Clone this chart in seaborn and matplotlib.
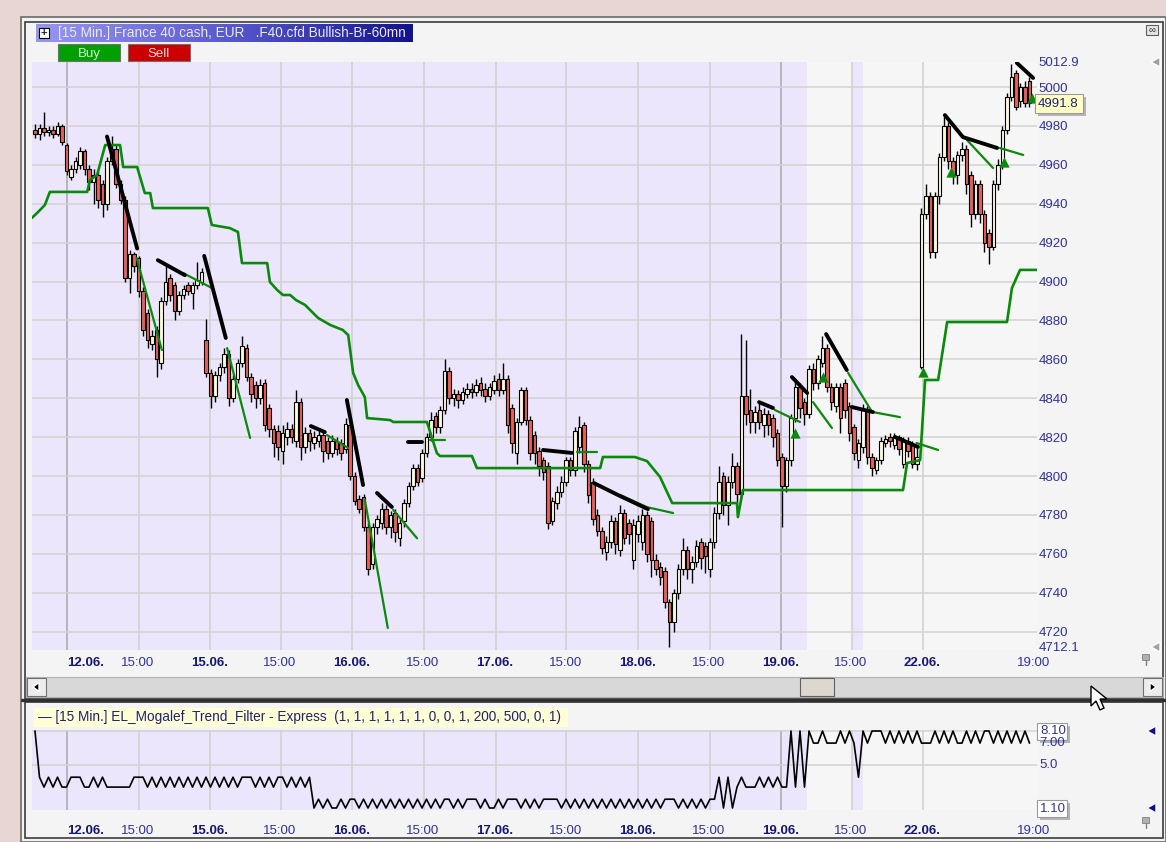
import numpy as np
import seaborn as sns
import matplotlib.pyplot as plt
from matplotlib.patches import Rectangle, Polygon
from matplotlib.colors import LinearSegmentedColormap

sns.set_theme(style="white")
plt.rcParams['font.family'] = ['Liberation Sans', 'DejaVu Sans']

# ---------------- data (15 min bars) ----------------
open_ = [4978, 4976, 4979, 4977, 4978, 4976, 4980, 4970, 4954, 4958,
         4960, 4967, 4958, 4951, 4955, 4950, 4940, 4962, 4968, 4950,
         4942, 4902, 4914, 4912, 4895, 4884, 4868, 4875, 4858, 4890,
         4902, 4898, 4885, 4893, 4898, 4894, 4898, 4900, 4870, 4853,
         4841, 4852, 4856, 4863, 4840, 4850, 4858, 4866, 4851, 4847,
         4840, 4848, 4835, 4824, 4823, 4813, 4820, 4824, 4818, 4838,
         4815, 4822, 4817, 4818, 4821, 4818, 4812, 4818, 4817, 4814,
         4826, 4800, 4788, 4789, 4774, 4755, 4774, 4776, 4783, 4774,
         4781, 4768, 4777, 4786, 4795, 4804, 4799, 4812, 4820, 4831,
         4825, 4834, 4854, 4840, 4842, 4839, 4842, 4845, 4843, 4848,
         4845, 4841, 4844, 4850, 4844, 4850, 4835, 4812, 4828, 4844,
         4829, 4821, 4813, 4808, 4805, 4777, 4786, 4792, 4797, 4808,
         4803, 4815, 4826, 4806, 4797, 4780, 4772, 4761, 4766, 4777,
         4762, 4781, 4776, 4757, 4770, 4766, 4780, 4777, 4757, 4753,
         4751, 4735, 4725, 4740, 4752, 4762, 4752, 4756, 4766, 4764,
         4752, 4766, 4781, 4800, 4785, 4797, 4805, 4791, 4841, 4834,
         4828, 4834, 4826, 4832, 4830, 4822, 4810, 4795, 4808, 4830,
         4846, 4838, 4832, 4855, 4848, 4858, 4866, 4846, 4836, 4846,
         4848, 4836, 4825, 4808, 4815, 4834, 4810, 4803, 4808, 4817,
         4820, 4816, 4820, 4806, 4818, 4816, 4806, 4856, 4935, 4944,
         4915, 4944, 4964, 4980, 4962, 4955, 4965, 4968, 4955, 4935,
         4950, 4935, 4925, 4918, 4950, 4960, 4978, 4995, 5007, 4993,
         5000, 5003]
close = [4976, 4979, 4977, 4978, 4976, 4980, 4972, 4957, 4958, 4962,
         4967, 4958, 4951, 4955, 4942, 4940, 4962, 4968, 4950, 4942,
         4902, 4914, 4908, 4895, 4875, 4870, 4872, 4860, 4890, 4900,
         4893, 4885, 4893, 4896, 4895, 4898, 4901, 4905, 4853, 4841,
         4852, 4856, 4863, 4840, 4850, 4858, 4867, 4851, 4842, 4840,
         4847, 4826, 4824, 4817, 4815, 4822, 4824, 4820, 4838, 4815,
         4822, 4818, 4820, 4821, 4813, 4812, 4818, 4814, 4812, 4827,
         4800, 4787, 4783, 4774, 4752, 4774, 4778, 4783, 4774, 4780,
         4771, 4776, 4786, 4795, 4804, 4797, 4812, 4820, 4829, 4825,
         4834, 4854, 4840, 4842, 4839, 4843, 4845, 4843, 4847, 4844,
         4841, 4846, 4849, 4844, 4850, 4826, 4817, 4828, 4844, 4829,
         4812, 4812, 4805, 4802, 4776, 4787, 4792, 4797, 4808, 4803,
         4823, 4825, 4806, 4790, 4778, 4772, 4763, 4766, 4777, 4765,
         4781, 4768, 4770, 4775, 4777, 4780, 4760, 4757, 4752, 4748,
         4735, 4725, 4740, 4752, 4762, 4752, 4756, 4764, 4758, 4759,
         4766, 4781, 4797, 4785, 4797, 4805, 4791, 4841, 4832, 4828,
         4833, 4828, 4832, 4826, 4820, 4808, 4795, 4808, 4830, 4846,
         4835, 4832, 4855, 4848, 4860, 4866, 4846, 4838, 4846, 4830,
         4834, 4822, 4812, 4817, 4834, 4810, 4804, 4808, 4818, 4819,
         4818, 4820, 4814, 4818, 4813, 4806, 4810, 4935, 4944, 4915,
         4944, 4964, 4980, 4962, 4955, 4965, 4968, 4950, 4935, 4950,
         4935, 4920, 4918, 4950, 4960, 4978, 4995, 5005, 4990, 5000,
         4992, 4991.8]
high = [4981, 4981, 4987, 4980, 4980, 4982, 4981, 4971, 4960, 4964,
        4969, 4968, 4960, 4958, 4957, 4952, 4964, 4975, 4970, 4952,
        4944, 4916, 4915, 4913, 4897, 4886, 4875, 4877, 4892, 4908,
        4904, 4900, 4895, 4898, 4900, 4900, 4910, 4907, 4881, 4855,
        4854, 4858, 4866, 4865, 4852, 4860, 4872, 4868, 4853, 4849,
        4850, 4850, 4837, 4826, 4826, 4826, 4828, 4827, 4844, 4840,
        4825, 4824, 4823, 4824, 4823, 4820, 4821, 4820, 4819, 4830,
        4828, 4802, 4790, 4791, 4776, 4776, 4780, 4786, 4785, 4782,
        4783, 4778, 4788, 4797, 4806, 4806, 4814, 4822, 4833, 4833,
        4836, 4860, 4856, 4845, 4844, 4846, 4848, 4848, 4850, 4851,
        4848, 4848, 4852, 4853, 4858, 4852, 4837, 4830, 4846, 4846,
        4831, 4823, 4815, 4810, 4807, 4789, 4795, 4800, 4810, 4810,
        4825, 4831, 4828, 4808, 4799, 4783, 4774, 4769, 4780, 4779,
        4785, 4783, 4778, 4778, 4780, 4783, 4782, 4779, 4760, 4756,
        4753, 4737, 4742, 4755, 4768, 4764, 4759, 4767, 4768, 4766,
        4768, 4784, 4805, 4802, 4800, 4812, 4807, 4873, 4870, 4845,
        4836, 4838, 4835, 4834, 4832, 4824, 4812, 4810, 4832, 4850,
        4848, 4840, 4857, 4858, 4862, 4872, 4868, 4848, 4848, 4848,
        4850, 4838, 4827, 4819, 4837, 4836, 4812, 4810, 4820, 4821,
        4822, 4822, 4821, 4820, 4820, 4818, 4815, 4938, 4950, 4946,
        4946, 4966, 4986, 4982, 4964, 4967, 4972, 4970, 4957, 4952,
        4952, 4937, 4927, 4952, 4963, 4980, 4997, 5012, 5009, 5002,
        5003, 5005]
low = [4974, 4973, 4975, 4975, 4974, 4975, 4970, 4955, 4952, 4956,
       4958, 4955, 4947, 4940, 4938, 4933, 4937, 4960, 4948, 4940,
       4900, 4894, 4905, 4892, 4872, 4866, 4865, 4851, 4855, 4888,
       4890, 4880, 4883, 4891, 4893, 4886, 4896, 4898, 4851, 4835,
       4838, 4849, 4853, 4836, 4838, 4848, 4856, 4849, 4838, 4835,
       4837, 4823, 4820, 4810, 4808, 4806, 4816, 4817, 4815, 4808,
       4812, 4813, 4814, 4815, 4807, 4809, 4810, 4811, 4808, 4812,
       4798, 4785, 4781, 4772, 4749, 4752, 4770, 4773, 4770, 4768,
       4766, 4764, 4774, 4784, 4793, 4795, 4797, 4810, 4818, 4822,
       4822, 4832, 4837, 4836, 4835, 4837, 4840, 4840, 4841, 4841,
       4838, 4839, 4842, 4841, 4842, 4822, 4812, 4806, 4826, 4826,
       4808, 4806, 4800, 4798, 4773, 4775, 4783, 4789, 4795, 4800,
       4800, 4812, 4802, 4786, 4775, 4769, 4760, 4757, 4763, 4760,
       4759, 4765, 4765, 4752, 4766, 4762, 4756, 4748, 4749, 4744,
       4732, 4712, 4720, 4737, 4749, 4747, 4745, 4753, 4752, 4750,
       4748, 4763, 4778, 4780, 4775, 4794, 4786, 4788, 4826, 4822,
       4822, 4824, 4820, 4821, 4815, 4805, 4774, 4792, 4805, 4828,
       4830, 4826, 4830, 4844, 4845, 4856, 4843, 4834, 4833, 4822,
       4830, 4818, 4808, 4804, 4812, 4806, 4800, 4801, 4806, 4815,
       4815, 4814, 4811, 4804, 4810, 4804, 4803, 4855, 4932, 4912,
       4912, 4940, 4962, 4958, 4950, 4950, 4962, 4945, 4928, 4932,
       4930, 4915, 4909, 4916, 4947, 4958, 4976, 4993, 4988, 4990,
       4990, 4990]

# EL_Mogalef_Trend_Filter - Express, one value per bar
trend_filter = [8.1, 3.9, 3.0, 3.9, 3.0, 3.9, 3.0, 3.0, 3.9, 3.9,
                3.9, 3.0, 3.0, 3.9, 3.0, 3.9, 3.0, 3.0, 3.0, 3.0,
                3.0, 3.0, 3.9, 3.9, 3.9, 3.0, 3.9, 3.0, 3.9, 3.0,
                3.9, 3.0, 3.9, 3.0, 3.9, 3.0, 3.9, 3.0, 3.9, 3.0,
                3.9, 3.0, 3.9, 3.0, 3.9, 3.0, 3.9, 3.9, 3.9, 3.0,
                3.9, 3.0, 3.9, 3.0, 3.9, 3.9, 3.0, 3.9, 3.0, 3.9,
                3.0, 3.9, 1.1, 1.9, 1.1, 1.9, 1.1, 1.1, 1.9, 1.1,
                1.9, 1.9, 1.1, 1.9, 1.1, 1.9, 1.1, 1.9, 1.1, 1.9,
                1.1, 1.9, 1.1, 1.9, 1.1, 1.9, 1.1, 1.9, 1.1, 1.9,
                1.1, 1.9, 1.9, 1.1, 1.9, 1.1, 1.9, 1.9, 1.9, 1.1,
                1.9, 1.1, 1.1, 1.9, 1.1, 1.9, 1.9, 1.9, 1.1, 1.9,
                1.1, 1.9, 1.1, 1.9, 1.9, 1.9, 1.9, 1.1, 1.9, 1.1,
                1.9, 1.1, 1.9, 1.1, 1.9, 1.1, 1.9, 1.1, 1.9, 1.1,
                1.9, 1.1, 1.9, 1.1, 1.9, 1.1, 1.9, 1.1, 1.9, 1.1,
                1.9, 1.9, 1.9, 1.1, 1.9, 1.1, 1.9, 1.1, 1.9, 1.1,
                1.9, 1.9, 3.9, 1.1, 3.9, 1.1, 3.0, 3.9, 3.0, 3.0,
                3.0, 3.9, 3.0, 3.9, 3.0, 3.9, 3.0, 3.0, 8.1, 3.0,
                8.1, 3.0, 8.1, 7.0, 7.0, 8.1, 7.0, 7.0, 7.0, 8.1,
                7.0, 8.1, 7.0, 3.9, 8.1, 7.0, 8.1, 8.1, 8.1, 7.0,
                8.1, 7.0, 8.1, 7.0, 8.1, 7.0, 8.1, 7.0, 7.0, 7.0,
                8.1, 7.0, 8.1, 7.0, 8.1, 7.0, 7.0, 8.1, 7.0, 8.1,
                7.0, 8.1, 8.1, 7.0, 8.1, 7.0, 8.1, 7.0, 8.1, 7.0,
                8.1, 7.0]

# green trailing stop (vertices: bar index, price)
stop_x = [-0.7, 0.7, 2.2, 3.3, 11.6, 12.2, 13.8, 15.6, 18.9, 19.6, 22.7, 24.4,
          25.6, 26.2, 38.4, 39.3, 43.3, 45.1, 46.0, 51.6, 52.2, 53.8, 55.1,
          56.7, 58.0, 60.0, 62.9, 65.6, 68.4, 69.6, 70.7, 71.8, 73.3, 73.8,
          78.9, 79.6, 87.1, 89.3, 90.0, 97.1, 98.2, 125.6, 126.2, 133.3,
          136.0, 138.9, 141.6, 156.0, 156.2, 157.3, 192.9, 193.8, 196.7,
          197.8, 200.7, 202.7, 216.0, 217.1, 218.9, 222.7]
stop_y = [4932.7, 4935.8, 4939.4, 4946.1, 4946.1, 4952.2, 4954.8, 4970.2,
          4970.2, 4958.9, 4958.9, 4945.5, 4945.5, 4937.8, 4937.8, 4929.1,
          4927.5, 4925.5, 4909.5, 4909.5, 4899.8, 4895.7, 4893.1, 4893.1,
          4890.5, 4888.0, 4881.3, 4877.7, 4875.1, 4872.5, 4853.0, 4846.8,
          4840.6, 4829.8, 4828.8, 4827.8, 4827.8, 4811.8, 4810.3, 4810.3,
          4804.1, 4804.1, 4809.8, 4809.8, 4807.7, 4799.5, 4786.1, 4786.1,
          4778.9, 4792.8, 4792.8, 4806.7, 4808.2, 4849.4, 4849.4, 4879.2,
          4879.2, 4896.7, 4906.0, 4906.0]

# black bearish trend lines and green projection lines
black_lines = [
    [(16.0, 4974.6), (22.7, 4917.0)],
    [(27.3, 4911.0), (33.3, 4903.3)],
    [(37.6, 4913.2), (42.4, 4871.0)],
    [(61.3, 4825.7), (64.4, 4822.6)],
    [(69.3, 4839.1), (72.9, 4795.4)],
    [(76.0, 4791.3), (79.3, 4784.1)],
    [(82.9, 4817.5), (86.0, 4817.5)],
    [(112.9, 4813.4), (119.3, 4811.9)],
    [(124.2, 4796.4), (129.6, 4790.2), (136.2, 4783.0)],
    [(160.9, 4838.0), (164.0, 4835.0)],
    [(168.2, 4850.9), (171.6, 4842.7)],
    [(175.8, 4873.0), (180.4, 4854.5)],
    [(181.5, 4835.5), (186.2, 4832.9)],
    [(191.1, 4820.1), (196.2, 4815.0)],
    [(202.2, 4985.6), (206.2, 4974.3), (213.8, 4968.7)],
    [(218.2, 5012.4), (221.8, 5004.7)],
]
green_lines = [
    [(22.6, 4912.1), (28.2, 4864.8)],
    [(32.9, 4904.4), (39.3, 4896.7)],
    [(42.7, 4865.8), (47.8, 4819.6)],
    [(64.9, 4821.1), (69.6, 4814.4)],
    [(73.3, 4787.7), (78.4, 4721.9)],
    [(79.6, 4782.6), (84.9, 4768.0)],
    [(87.8, 4818.5), (91.1, 4818.5)],
    [(120.4, 4812.4), (124.9, 4812.4)],
    [(130.0, 4790.3), (136.0, 4784.0), (141.8, 4781.0)],
    [(164.4, 4834.0), (170.0, 4827.8)],
    [(172.9, 4838.0), (177.1, 4824.7)],
    [(180.7, 4853.0), (186.0, 4833.0)],
    [(186.2, 4832.9), (192.2, 4830.3)],
    [(195.9, 4817.0), (200.7, 4813.4)],
    [(207.1, 4972.8), (212.9, 4958.4)],
    [(214.4, 4968.7), (219.6, 4965.1)],
]
buy_x = [168.9, 175.1, 197.3, 203.5, 215.3, 221.6]
buy_y = [4822.1, 4850.9, 4853.5, 4956.3, 4961.3, 4994.4]

price_ticks = [5000, 4980, 4960, 4940, 4920, 4900, 4880, 4860, 4840, 4820,
               4800, 4780, 4760, 4740, 4720]
price_top, price_bottom = 5012.9, 4712.1
last_price = '4991.8'
filter_ticks = ['8.10', '7.00', '5.0', '1.10']

grid_x = [7.1, 23.0, 38.8, 54.7, 70.4, 86.4, 102.4, 118.1, 134.0, 150.0,
          165.7, 181.5, 197.3]
date_pos = [11.2, 38.9, 70.4, 102.2, 133.9, 165.6, 197.2]
date_lbl = ['12.06.', '15.06.', '16.06.', '17.06.', '18.06.', '19.06.', '22.06.']
time_pos = [22.7, 54.4, 86.1, 117.9, 149.6, 181.3, 222.0]
time_lbl = ['15:00', '15:00', '15:00', '15:00', '15:00', '15:00', '19:00']

title = '[15 Min.] France 40 cash, EUR   .F40.cfd Bullish-Br-60mn'
sub_title = '\u2014 [15 Min.] EL_Mogalef_Trend_Filter - Express  (1, 1, 1, 1, 1, 1, 0, 0, 1, 200, 500, 0, 1)'

# ---------------- layout ----------------
W, H = 1166, 842
LAV = '#ece6fc'
LIGHT = '#f6f6f6'
BLUE_TXT = '#3030a8'
NAVY_TXT = '#16167a'

fig = plt.figure(figsize=(W / 100, H / 100), dpi=100)
fig.patch.set_facecolor('#e8d6d4')

bg = fig.add_axes([0, 0, 1, 1], zorder=-5)
bg.set_xlim(0, W)
bg.set_ylim(H, 0)
bg.axis('off')
bg.add_patch(Rectangle((21, 17), W - 21, H - 17, fc='#f2f2f2', ec='#6a6a6a', lw=1.2))
bg.add_patch(Rectangle((25, 22), 1138, 677, fc='#f4f4f4', ec='#3c3c3c', lw=1.2))
bg.add_patch(Rectangle((25, 702), 1138, 136, fc='#f4f4f4', ec='#3c3c3c', lw=1.2))

idx = np.arange(len(close))
o = np.array(open_, float)
c = np.array(close, float)
up = c >= o
xlim = (-0.667, 222.667)


def shade(a):
    a.set_facecolor(LIGHT)
    a.axvspan(xlim[0], 171.6, color=LAV, lw=0, zorder=0)
    a.axvspan(181.6, 184.0, color=LAV, lw=0, zorder=0)
    for gx in grid_x:
        dark = gx in (7.1, 165.7)
        a.axvline(gx, color='#a8a8a8' if dark else '#cfcfcf', lw=1.1, zorder=1)
    for s in a.spines.values():
        s.set_visible(False)
    a.set_xlim(*xlim)
    a.set_xticks(date_pos + time_pos, date_lbl + time_lbl)
    for k, t in enumerate(a.get_xticklabels()):
        if k < len(date_pos):
            t.set_fontweight('bold')
            t.set_color(NAVY_TXT)
        else:
            t.set_color(BLUE_TXT)


# ---- main price panel ----
ax = fig.add_axes([32 / W, 1 - 650 / H, 1005 / W, 588 / H], zorder=1)
shade(ax)
ax.set_ylim(price_bottom - 3 / 1.9448, price_top)
for v in price_ticks:
    ax.axhline(v, color='#d2d2d2', lw=1.1, zorder=1)

ax.vlines(idx, low, high, color='black', lw=1.0, zorder=3)
body = np.maximum(np.abs(c - o), 0.7)
ax.bar(idx, body, bottom=np.minimum(o, c), width=0.88,
       color=np.where(up, '#fbf8dc', '#ec5e5a'), edgecolor='black',
       linewidth=0.8, zorder=4)

sns.lineplot(x=stop_x, y=stop_y, ax=ax, color='#0a8a0a', lw=1.9,
             sort=False, estimator=None, zorder=5)
for seg in green_lines:
    xs, ys = zip(*seg)
    ax.plot(xs, ys, color='#0a8a0a', lw=1.6, zorder=5)
for seg in black_lines:
    xs, ys = zip(*seg)
    ax.plot(xs, ys, color='black', lw=2.8, solid_capstyle='round', zorder=6)
ax.scatter(buy_x, buy_y, marker='^', s=55, color='#0a8a0a', zorder=7, lw=0)

ax.yaxis.tick_right()
ax.set_yticks([price_top] + price_ticks + [price_bottom],
              [f'{price_top:.1f}'] + [str(v) for v in price_ticks] + [f'{price_bottom:.1f}'])
ax.tick_params(axis='y', length=0, pad=1.2, labelsize=9.5, labelcolor=BLUE_TXT)
ax.tick_params(axis='x', length=0, pad=5.2, labelsize=9.5)
ax.set_xlabel('')
ax.set_ylabel('')

# ---- lower indicator panel ----
ax2 = fig.add_axes([32 / W, 1 - 810 / H, 1005 / W, 80 / H], zorder=1)
shade(ax2)
ax2.set_ylim(1.1 - 2 / 11, 8.1 + 1 / 11)
ax2.axhline(5.0, color='#d2d2d2', lw=1.1, zorder=1)
ax2.axhline(8.1, color='#d2d2d2', lw=1.1, zorder=1)
sns.lineplot(x=idx, y=trend_filter, ax=ax2, color='black', lw=1.2,
             estimator=None, zorder=4)
ax2.set_yticks([])
ax2.tick_params(axis='x', length=0, pad=10.6, labelsize=9.5)
ax2.set_xlabel('')
ax2.set_ylabel('')

# ---------------- chrome overlay ----------------
ov = fig.add_axes([0, 0, 1, 1], zorder=10)
ov.patch.set_alpha(0)
ov.axis('off')

hdr = LinearSegmentedColormap.from_list('hdr', ['#9898f2', '#5a5ad0', '#12128c'])
ov.imshow(np.linspace(0, 1, 256)[None, :], extent=[36, 413, 42, 24], cmap=hdr,
          aspect='auto', zorder=1)
ov.add_patch(Rectangle((39, 28), 10, 10, fc='white', ec='black', lw=0.8, zorder=2))
ov.text(44, 33.3, '+', ha='center', va='center', fontsize=8, fontweight='bold', zorder=3)
ov.text(58, 33.5, title, ha='left', va='center', fontsize=9.8, color='#e8e8ff', zorder=3)
ov.add_patch(Rectangle((58, 44), 62, 17, fc='#00a000', ec='#707070', lw=0.8))
ov.text(89, 54, 'Buy', ha='center', va='center', fontsize=9.5, color='#d0ffd0')
ov.add_patch(Rectangle((128, 44), 62, 17, fc='#cc0000', ec='#707070', lw=0.8))
ov.text(159, 54, 'Sell', ha='center', va='center', fontsize=9.5, color='#ffe0e0')

# last price box
ov.add_patch(Rectangle((1038, 97), 48, 19, fc='#b4b4b4', lw=0))
ov.add_patch(Rectangle((1035, 94), 48, 19, fc='#ffffc4', ec='#9a9a9a', lw=0.8))
ov.text(1038, 104, last_price, ha='left', va='center', fontsize=9.5, color='#202080')

# scrollbar
ov.add_patch(Rectangle((26, 677), 1137, 20, fc='#d8d8d8', ec='#b0b0b0', lw=0.8))
ov.add_patch(Rectangle((27, 678), 19, 18, fc='#ececec', ec='#707070', lw=0.8))
ov.add_patch(Polygon([(33, 687), (39, 682.5), (39, 691.5)], fc='black'))
ov.add_patch(Rectangle((1143, 678), 19, 18, fc='#ececec', ec='#707070', lw=0.8))
ov.add_patch(Polygon([(1156, 687), (1150, 682.5), (1150, 691.5)], fc='black'))
ov.add_patch(Rectangle((800, 678), 34, 18, fc='#dcd8d0', ec='#606060', lw=0.8))
ov.plot([22, W], [700, 700], color='#303030', lw=2.4)

# indicator header and scale labels
ov.add_patch(Rectangle((34, 708), 534, 19, fc='#ffffd6', lw=0))
ov.text(38, 717.5, sub_title, ha='left', va='center', fontsize=9.8, color='#20207a')
ov.text(1039, 743, filter_ticks[1], ha='left', va='center', fontsize=9.5, color=BLUE_TXT)
ov.text(1039, 765, filter_ticks[2], ha='left', va='center', fontsize=9.5, color=BLUE_TXT)
for ty, lab in ((731, filter_ticks[0]), (808, filter_ticks[3])):
    ov.add_patch(Rectangle((1040, ty - 5), 30, 17, fc='#b4b4b4', lw=0))
    ov.add_patch(Rectangle((1037, ty - 8), 30, 17, fc='white', ec='#9a9a9a', lw=0.8))
    ov.text(1040, ty + 0.5, lab, ha='left', va='center', fontsize=9.5, color=BLUE_TXT)

# right-edge markers
for ty in (62, 647):
    ov.add_patch(Polygon([(1151, ty), (1160, ty - 5), (1160, ty + 5)], fc='#a0a0a0'))
for ty in (731, 808):
    ov.add_patch(Polygon([(1147, ty), (1156, ty - 5), (1156, ty + 5)], fc='#10108a'))
for ty in (660, 823):
    ov.add_patch(Rectangle((1142, ty - 6), 7, 6, fc='#b0b0b0', ec='#808080', lw=0.6))
    ov.plot([1145.5, 1145.5], [ty, ty + 5], color='#808080', lw=1)
ov.add_patch(Rectangle((1146, 25), 12, 10, fc='#e4e4e4', ec='#606060', lw=0.8))
ov.text(1152, 30.5, '\u221e', ha='center', va='center', fontsize=7, color='#303030')

# mouse pointer
ov.add_patch(Polygon([(1091, 686), (1091, 706), (1096, 701), (1100, 710), (1104, 708),
                      (1100, 699), (1107, 699)], fc='white', ec='black', lw=1, zorder=20))

ov.set_xlim(0, W)
ov.set_ylim(H, 0)

fig.savefig('out.png', dpi=100)
